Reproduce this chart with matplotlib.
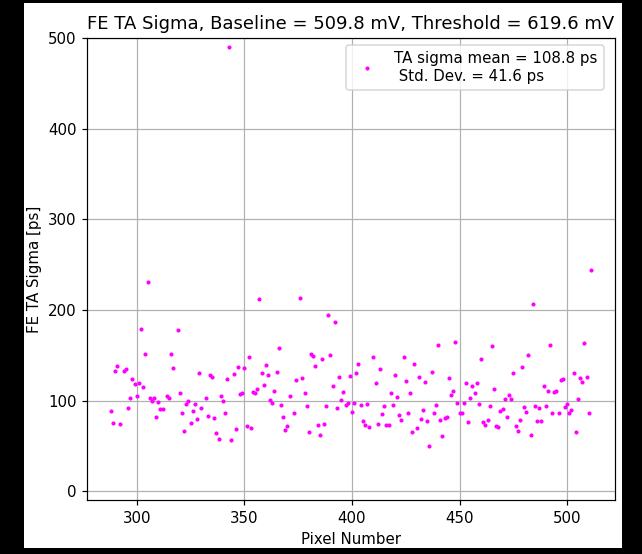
import matplotlib
matplotlib.use("Agg")
import matplotlib.pyplot as plt
from matplotlib.patches import Rectangle

# pixel numbers and the TA sigma (ps)
pixels = [288, 289, 290, 291, 292, 294, 295, 296, 297, 298, 299, 300, 301, 302,
          303, 304, 305, 306, 307, 308, 309, 310, 311, 312, 314, 315, 316, 317,
          319, 320, 321, 322, 323, 324, 325, 326, 327, 328, 329, 330, 332, 333,
          334, 335, 336, 337, 338, 339, 340, 341, 342, 343, 344, 345, 346, 347,
          348, 349, 350, 351, 352, 353, 354, 355, 356, 357, 358, 359, 360, 361,
          362, 363, 364, 365, 366, 367, 368, 369, 370, 371, 373, 374, 376, 377,
          378, 379, 380, 381, 382, 383, 384, 385, 386, 387, 388, 389, 390, 391,
          392, 393, 394, 395, 396, 397, 398, 399, 400, 401, 402, 403, 404, 405,
          406, 407, 408, 410, 411, 412, 413, 414, 415, 416, 417, 418, 419, 420,
          421, 422, 423, 424, 425, 426, 427, 428, 429, 430, 431, 432, 433, 434,
          435, 436, 437, 438, 439, 440, 441, 442, 443, 444, 445, 446, 447, 448,
          449, 450, 451, 452, 453, 454, 455, 456, 457, 458, 459, 460, 461, 462,
          463, 464, 465, 466, 467, 468, 469, 470, 471, 472, 473, 474, 475, 476,
          477, 478, 479, 480, 481, 482, 483, 484, 485, 486, 487, 488, 489, 490,
          491, 492, 493, 494, 495, 496, 497, 498, 499, 500, 501, 502, 503, 504,
          505, 506, 507, 508, 509, 510, 511]
sigma_ps = [89, 75, 133, 138, 74, 133, 135, 92, 103, 124, 118, 105, 120, 179,
            115, 151, 231, 103, 100, 103, 82, 99, 91, 91, 105, 103, 151, 136,
            178, 108, 87, 67, 96, 100, 75, 89, 96, 80, 130, 92, 103, 83,
            128, 126, 81, 64, 58, 105, 100, 87, 124, 490, 57, 129, 69, 137,
            107, 108, 136, 72, 148, 70, 110, 109, 113, 212, 131, 117, 139, 128,
            101, 97, 111, 132, 158, 95, 82, 68, 72, 105, 86, 123, 213, 125,
            109, 94, 65, 151, 149, 138, 73, 62, 146, 74, 94, 194, 150, 116,
            187, 92, 126, 101, 110, 95, 97, 127, 88, 98, 130, 141, 95, 78,
            73, 96, 71, 148, 119, 74, 135, 85, 94, 73, 73, 108, 95, 128,
            104, 84, 79, 148, 122, 86, 108, 65, 140, 70, 126, 80, 90, 121,
            78, 50, 132, 87, 95, 161, 79, 61, 81, 82, 125, 106, 111, 165,
            98, 86, 87, 97, 119, 76, 103, 116, 109, 119, 96, 146, 76, 73,
            79, 94, 160, 113, 72, 71, 89, 91, 102, 82, 106, 102, 131, 72,
            67, 79, 137, 93, 88, 150, 62, 207, 94, 78, 92, 78, 116, 94,
            111, 161, 87, 110, 111, 86, 123, 124, 93, 96, 86, 90, 131, 65,
            102, 125, 121, 164, 126, 86, 244]

baseline_mv = 509.8
threshold_mv = 619.6
mean_ps = 108.8
std_ps = 41.6

fig = plt.figure(figsize=(642 / 108, 554 / 108), dpi=108, facecolor="black")
# white page on the black background
fig.patches.append(Rectangle((24 / 642, 6 / 554), 598 / 642, 545 / 554,
                             transform=fig.transFigure, facecolor="white",
                             edgecolor="none", zorder=-1))

ax = fig.add_axes([0.1354, 0.0966, 0.8223, 0.8350])
ax.plot(pixels, sigma_ps, ".", color="magenta", markersize=3.5,
        label=f"TA sigma mean = {mean_ps} ps\n Std. Dev. = {std_ps} ps")
ax.set_ylim(-10, 500)
ax.grid(True)
ax.set_xlabel("Pixel Number")
ax.set_ylabel("FE TA Sigma [ps]")
ax.set_title(f"FE TA Sigma, Baseline = {baseline_mv} mV, "
             f"Threshold = {threshold_mv} mV")
ax.legend(loc="upper right", bbox_to_anchor=(0.993, 1.0))

fig.savefig("out.png", dpi=108, facecolor=fig.get_facecolor())
